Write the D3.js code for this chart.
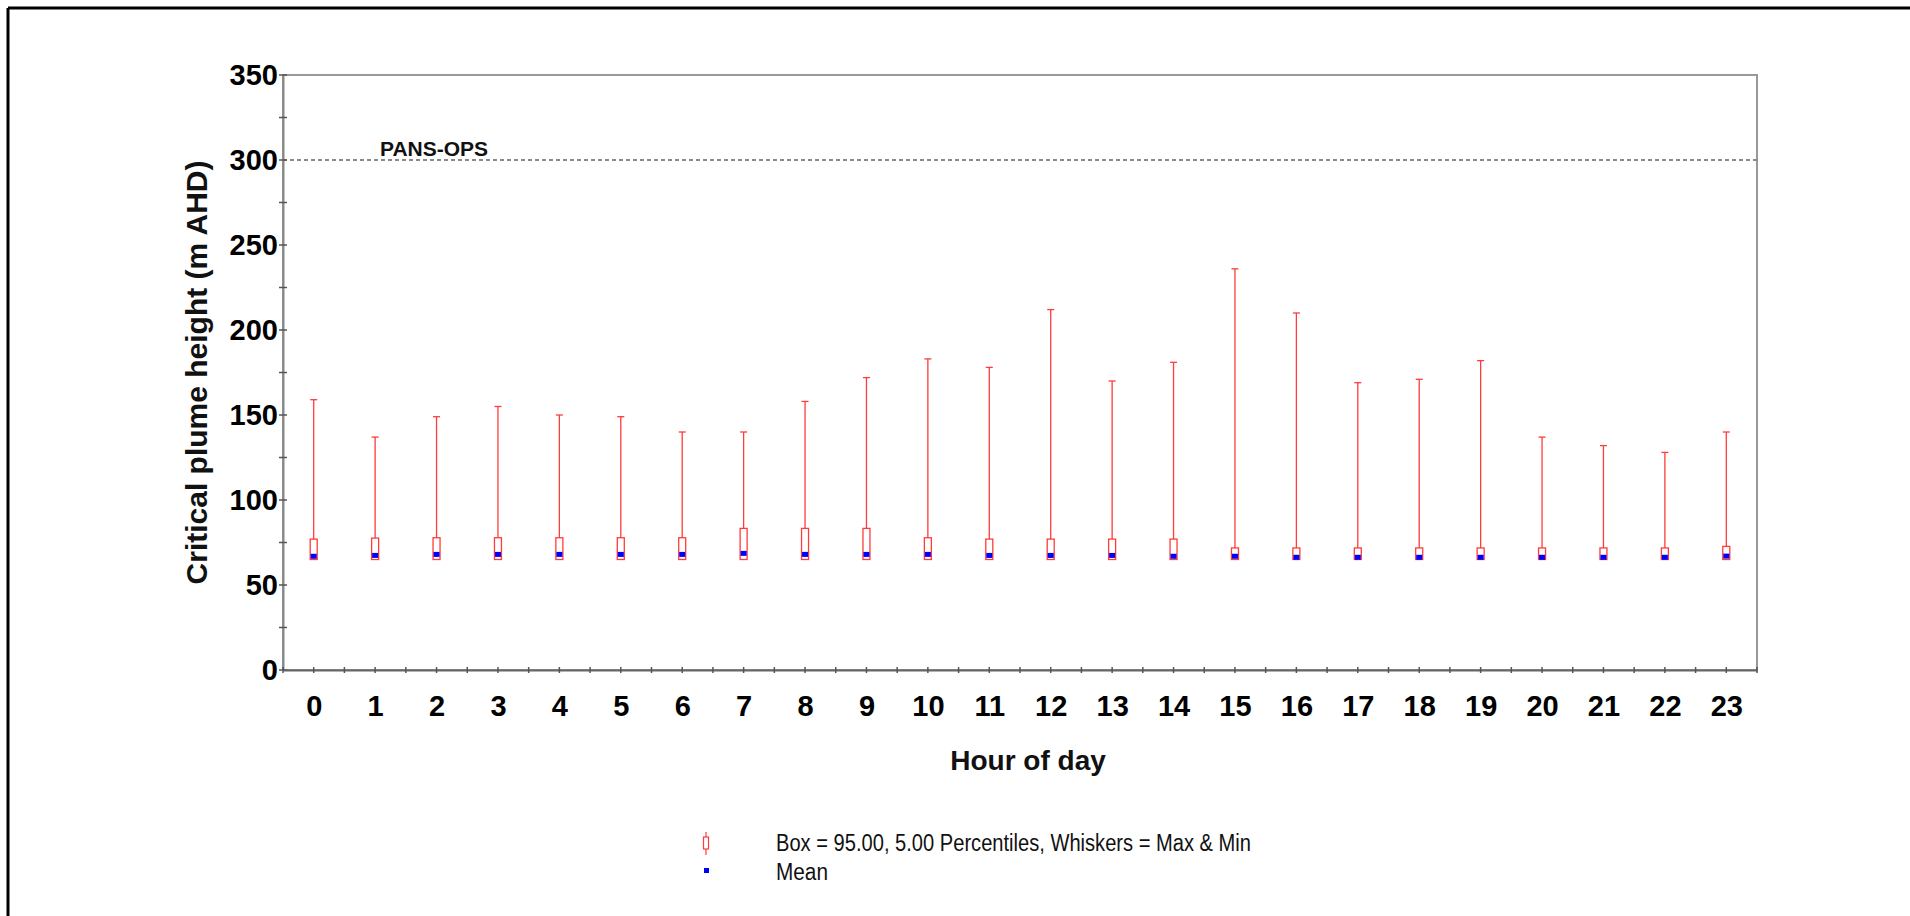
<!DOCTYPE html>
<html>
<head>
<meta charset="utf-8">
<script src="https://cdn.jsdelivr.net/npm/d3@7"></script>
<style>
  body { margin: 0; background: #fff; }
  text { font-family: "Liberation Sans", Arial, sans-serif; }
</style>
</head>
<body>
<div id="graph"></div>
<script>
// hour of day categories
var hours = [0, 1, 2, 3, 4, 5, 6, 7, 8, 9, 10, 11, 12, 13, 14, 15, 16, 17, 18, 19, 20, 21, 22, 23];
// box = 95th / 5th percentiles, whiskers = max / min, mean marker
var p95 = [77, 77.6, 77.8, 77.8, 77.8, 77.8, 77.8, 83.3, 83.3, 83.3, 77.8, 77, 77, 77, 77, 71.8, 71.8, 71.8, 71.8, 71.8, 71.8, 71.8, 71.8, 72.7];
var p5 = [65, 65, 65, 65, 65, 65, 65, 65, 65, 65, 65, 65, 65, 65, 65, 65, 65, 65, 65, 65, 65, 65, 65, 65];
var maxs = [159, 137, 149, 155, 150, 149, 140, 140, 158, 172, 183, 178, 212, 170, 181, 236, 210, 169, 171, 182, 137, 132, 128, 140];
var mins = [65, 65, 65, 65, 65, 65, 65, 65, 65, 65, 65, 65, 65, 65, 65, 65, 65, 65, 65, 65, 65, 65, 65, 65];
var means = [66.9, 67.4, 68, 68, 68, 68, 68, 68.6, 68, 68, 68, 67.4, 67.4, 67.4, 66.9, 66.9, 66.3, 66.3, 66.3, 66.3, 66.3, 66.3, 66.3, 67];
var yTicks = [0, 50, 100, 150, 200, 250, 300, 350];
var panOps = 300;

var W = 1910, H = 916;
var pLeft = 283, pRight = 1757, pTop = 75, pBottom = 670;

var svg = d3.select("#graph").append("svg").attr("width", W).attr("height", H);

// outer frame (left + top edges visible)
svg.append("line").attr("x1", 8).attr("y1", 8).attr("x2", W).attr("y2", 8).attr("stroke", "#000").attr("stroke-width", 3);
svg.append("line").attr("x1", 8).attr("y1", 8).attr("x2", 8).attr("y2", H).attr("stroke", "#000").attr("stroke-width", 3);

var x = d3.scaleLinear().domain([-0.5, 23.5]).range([pLeft, pRight]);
var y = d3.scaleLinear().domain([0, 350]).range([pBottom, pTop]);

// plot frame
svg.append("rect").attr("x", pLeft).attr("y", pTop).attr("width", pRight - pLeft).attr("height", pBottom - pTop)
  .attr("fill", "none").attr("stroke", "#999").attr("stroke-width", 2);

// reference line
svg.append("line").attr("x1", pLeft).attr("x2", pRight).attr("y1", y(panOps)).attr("y2", y(panOps))
  .attr("stroke", "#8a8a8a").attr("stroke-width", 2).attr("stroke-dasharray", "4,3");
svg.append("text").attr("x", 380).attr("y", y(panOps) - 4).attr("font-size", 21).attr("font-weight", "bold")
  .attr("fill", "#111").text("PANS-OPS");

// y axis
var yAxis = svg.append("g").attr("transform", "translate(" + pLeft + ",0)")
  .call(d3.axisLeft(y).tickValues(yTicks).tickSize(0).tickPadding(5).tickFormat(d3.format("d")));
yAxis.select(".domain").attr("stroke", "#888").attr("stroke-width", 2);
yAxis.selectAll("text").attr("font-size", 29).attr("font-weight", "bold").attr("fill", "#000")
  .style("font-family", "Liberation Sans, Arial, sans-serif");
svg.append("g").selectAll("line").data(d3.range(0, 351, 25)).enter().append("line")
  .attr("x1", pLeft - 4).attr("x2", pLeft + 4).attr("y1", function(d) { return y(d); }).attr("y2", function(d) { return y(d); })
  .attr("stroke", "#555").attr("stroke-width", 1.5);

// x axis
var xAxis = svg.append("g").attr("transform", "translate(0," + pBottom + ")")
  .call(d3.axisBottom(x).tickValues(hours).tickSize(0).tickPadding(25).tickFormat(d3.format("d")));
xAxis.select(".domain").attr("stroke", "#666").attr("stroke-width", 2);
xAxis.selectAll("text").attr("font-size", 29).attr("font-weight", "bold").attr("fill", "#000")
  .style("font-family", "Liberation Sans, Arial, sans-serif");
svg.append("g").selectAll("line").data(d3.range(-0.5, 23.6, 0.5)).enter().append("line")
  .attr("x1", function(d) { return x(d); }).attr("x2", function(d) { return x(d); })
  .attr("y1", pBottom - 3).attr("y2", pBottom + 3).attr("stroke", "#555").attr("stroke-width", 1.5);

// axis titles
svg.append("text").attr("transform", "translate(207," + ((pTop + pBottom) / 2) + ") rotate(-90)")
  .attr("text-anchor", "middle").attr("font-size", 30).attr("font-weight", "bold").attr("fill", "#111")
  .text("Critical plume height (m AHD)");
svg.append("text").attr("x", 1028).attr("y", 770).attr("text-anchor", "middle")
  .attr("font-size", 28).attr("font-weight", "bold").attr("fill", "#111").text("Hour of day");

// boxes
var bw = 7;
var boxes = svg.append("g").selectAll("g").data(hours).enter().append("g");
boxes.append("line")
  .attr("x1", function(d, i) { return x(d); }).attr("x2", function(d, i) { return x(d); })
  .attr("y1", function(d, i) { return y(p95[i]); }).attr("y2", function(d, i) { return y(maxs[i]); })
  .attr("stroke", "#ff3b3b").attr("stroke-width", 1.3);
boxes.append("line")
  .attr("x1", function(d, i) { return x(d) - bw / 2; }).attr("x2", function(d, i) { return x(d) + bw / 2; })
  .attr("y1", function(d, i) { return y(maxs[i]); }).attr("y2", function(d, i) { return y(maxs[i]); })
  .attr("stroke", "#ff3b3b").attr("stroke-width", 1.3);
boxes.append("line")
  .attr("x1", function(d, i) { return x(d); }).attr("x2", function(d, i) { return x(d); })
  .attr("y1", function(d, i) { return y(p5[i]); }).attr("y2", function(d, i) { return y(mins[i]); })
  .attr("stroke", "#ff3b3b").attr("stroke-width", 1.3);
boxes.append("rect")
  .attr("x", function(d) { return x(d) - bw / 2; }).attr("width", bw)
  .attr("y", function(d, i) { return y(p95[i]); }).attr("height", function(d, i) { return y(p5[i]) - y(p95[i]); })
  .attr("fill", "none").attr("stroke", "#ff3b3b").attr("stroke-width", 1.3);
boxes.append("rect")
  .attr("x", function(d) { return x(d) - 3; }).attr("width", 6)
  .attr("y", function(d, i) { return y(means[i]) - 2.5; }).attr("height", 5)
  .attr("fill", "#0000ff");

// legend
var lg = svg.append("g");
lg.append("line").attr("x1", 706).attr("x2", 706).attr("y1", 832).attr("y2", 855).attr("stroke", "#ff3b3b").attr("stroke-width", 1.2);
lg.append("rect").attr("x", 703.5).attr("y", 837).attr("width", 5).attr("height", 12).attr("fill", "#fff").attr("stroke", "#ff3b3b").attr("stroke-width", 1.2);
lg.append("rect").attr("x", 704).attr("y", 868).attr("width", 5).attr("height", 5).attr("fill", "#0000ff");
lg.append("text").attr("x", 776).attr("y", 851).attr("font-size", 23).attr("fill", "#111")
  .attr("textLength", 475).attr("lengthAdjust", "spacingAndGlyphs")
  .text("Box = 95.00, 5.00 Percentiles, Whiskers = Max & Min");
lg.append("text").attr("x", 776).attr("y", 880).attr("font-size", 23).attr("fill", "#111")
  .attr("textLength", 52).attr("lengthAdjust", "spacingAndGlyphs").text("Mean");
</script>
</body>
</html>
